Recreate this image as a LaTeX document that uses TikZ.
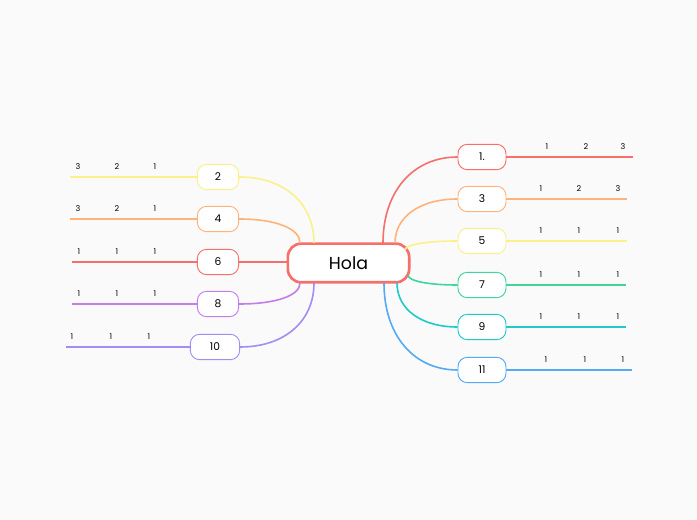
\documentclass[tikz,border=0pt]{standalone}
\usepackage{fontspec}
\setmainfont{Poppins}
\definecolor{cred}{HTML}{F76F6B}
\definecolor{corange}{HTML}{FFB37A}
\definecolor{cyellow}{HTML}{FBF08A}
\definecolor{cgreen}{HTML}{3ED69B}
\definecolor{cteal}{HTML}{1ECBCB}
\definecolor{cblue}{HTML}{56A9F5}
\definecolor{cpurple}{HTML}{C57DE8}
\definecolor{clav}{HTML}{A58CF5}
\definecolor{bg}{HTML}{FAFAFA}
\begin{document}
\begin{tikzpicture}[x=0.75pt,y=-0.75pt,
  sub/.style={draw=#1,fill=white,rounded corners=7pt,minimum height=19pt,font=\fontsize{8}{9}\selectfont,inner sep=0pt,line width=0.7pt},
  lbl/.style={font=\fontsize{6}{7}\selectfont,inner sep=0pt},
  con/.style={draw=#1,line width=1.2pt},
  und/.style={draw=#1,line width=0.8pt}]
\fill[bg] (0,0) rectangle (697,520);
\node[draw=cred,fill=white,line width=2pt,rounded corners=10pt,minimum width=91pt,minimum height=29pt,font=\fontsize{13}{15}\selectfont,inner sep=0pt] (hub) at (348.5,263) {Hola};
% right
\foreach \n/\t/\y/\c/\sx/\sy/\e/\a/\b/\cc/\la/\lb/\lc in {
 r1/1./157/cred/383/243/633/547/586/623/1/2/3,
 r3/3/199/corange/395/243/627/541/579/618/1/2/3,
 r5/5/241/cyellow/405/250/627/541/579/618/1/1/1,
 r7/7/285/cgreen/408/275/626/541/579/618/1/1/1,
 r9/9/327/cteal/397/283/626/541/579/618/1/1/1,
 r11/11/370/cblue/384/283/632/546/585/623/1/1/1}{
  \node[sub=\c,minimum width=36pt] (\n) at (482,\y) {\t};
  \coordinate (s\n) at (\sx,\sy);
  \coordinate (e\n) at (\e,\y);
  \draw[con=\c] (s\n) .. controls (\sx,{\sy+0.6*(\y-\sy)}) and ({\sx+0.4*(458-\sx)},\y) .. (\n.west);
  \draw[und=\c] (\n.east) -- (e\n);
  \node[lbl] at (\a,\y-10) {\la};
  \node[lbl] at (\b,\y-10) {\lb};
  \node[lbl] at (\cc,\y-10) {\lc};
}
% left
\foreach \n/\t/\x/\w/\y/\c/\sx/\sy/\e/\a/\b/\cc/\la/\lb/\lc in {
 l2/2/218/31/177/cyellow/314/243/70/78/117/155/3/2/1,
 l4/4/218/31/219/corange/300/243/70/78/117/155/3/2/1,
 l6/6/218/31/262/cred/287/262/72/79/117/155/1/1/1,
 l8/8/218/31/304/cpurple/300/283/72/79/117/155/1/1/1,
 l10/10/215/37/347/clav/314/283/66/72/111/149/1/1/1}{
  \node[sub=\c,minimum width=\w pt] (\n) at (\x,\y) {\t};
  \coordinate (s\n) at (\sx,\sy);
  \coordinate (e\n) at (\e,\y);
  \draw[con=\c] (s\n) .. controls (\sx,{\sy+0.6*(\y-\sy)}) and ({\sx-0.4*(\sx-240)},\y) .. (\n.east);
  \draw[und=\c] (\n.west) -- (e\n);
  \node[lbl] at (\a,\y-10) {\la};
  \node[lbl] at (\b,\y-10) {\lb};
  \node[lbl] at (\cc,\y-10) {\lc};
}
\end{tikzpicture}
\end{document}
